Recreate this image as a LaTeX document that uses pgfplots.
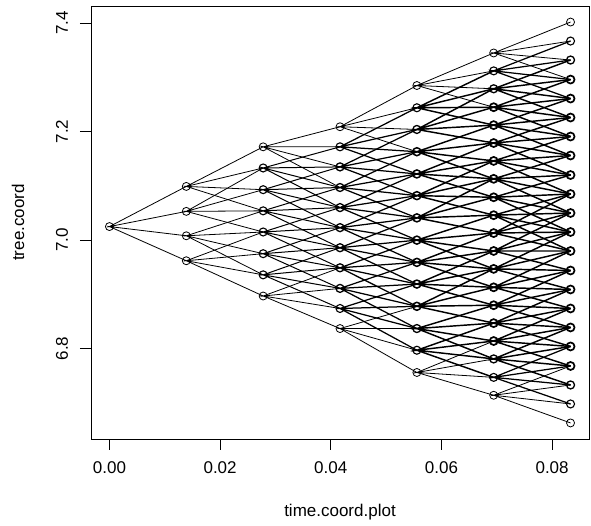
\documentclass[border=0pt]{standalone}
\usepackage{fontspec}
\setmainfont{Liberation Sans}
\usepackage{pgfplots}
\pgfplotsset{compat=1.18}
\begin{document}
\begin{tikzpicture}
\begin{axis}[
  name=ax,
  scale only axis, width=498pt, height=433pt,
  xmin=-0.003333, xmax=0.086667, ymin=6.6334, ymax=7.4316,
  xtick={0,0.02,0.04,0.06,0.08}, xticklabels={0.00,0.02,0.04,0.06,0.08},
  ytick={6.8,7.0,7.2,7.4}, yticklabels={6.8,7.0,7.2,7.4},
  scaled x ticks=false, scaled y ticks=false,
  tick pos=left, tick align=outside, major tick length=11pt,
  tick style={black, line width=0.8pt},
  axis line style={black, line width=0.8pt},
  tick label style={font=\fontsize{17}{20}\selectfont},
  label style={font=\fontsize{17}{20}\selectfont},
  xticklabel style={anchor=center, yshift=-18pt},
  yticklabel style={xshift=-18pt, rotate=90, anchor=center},
  xlabel={time.coord.plot}, ylabel={tree.coord},
  xlabel style={at={(axis description cs:0.5,-0.1686)}, anchor=center},
  ylabel style={at={(axis description cs:-0.1466,0.5)}, anchor=center},
  E/.style={black, line width=0.8pt, no marks},
  M2/.style={black, line width=1.0pt, no marks},
  M3/.style={black, line width=1.25pt, no marks},
  M4/.style={black, line width=1.45pt, no marks},
  C/.style={only marks, mark=o, mark size=4pt, black, mark options={line width=#1}},
]
% step 0 -> 1
\addplot[E] coordinates {(0.01389,7.099)(0,7.025)(0.01389,7.053)(0,7.025)(0.01389,7.008)(0,7.025)(0.01389,6.962)};
% step 1 -> 2
\addplot[E] coordinates {(0.02778,7.172)(0.01389,7.099)(0.02778,7.133)(0.01389,7.099)(0.02778,7.093)(0.01389,7.099)(0.02778,7.054)};
\addplot[E] coordinates {(0.02778,7.133)(0.01389,7.053)(0.02778,7.093)(0.01389,7.053)(0.02778,7.054)(0.01389,7.053)(0.02778,7.015)};
\addplot[E] coordinates {(0.02778,7.054)(0.01389,7.008)(0.02778,7.015)(0.01389,7.008)(0.02778,6.975)(0.01389,7.008)(0.02778,6.936)};
\addplot[E] coordinates {(0.02778,7.015)(0.01389,6.962)(0.02778,6.975)(0.01389,6.962)(0.02778,6.936)(0.01389,6.962)(0.02778,6.897)};
% step 2 -> 3
\addplot[E] coordinates {(0.04167,7.209)(0.02778,7.172)(0.04167,7.172)(0.02778,7.172)(0.04167,7.135)(0.02778,7.172)(0.04167,7.097)};
\addplot[M2] coordinates {(0.04167,7.172)(0.02778,7.133)(0.04167,7.135)(0.02778,7.133)(0.04167,7.097)(0.02778,7.133)(0.04167,7.060)};
\addplot[M2] coordinates {(0.04167,7.135)(0.02778,7.093)(0.04167,7.097)(0.02778,7.093)(0.04167,7.060)(0.02778,7.093)(0.04167,7.023)};
\addplot[M2] coordinates {(0.04167,7.097)(0.02778,7.054)(0.04167,7.060)(0.02778,7.054)(0.04167,7.023)(0.02778,7.054)(0.04167,6.986)};
\addplot[M2] coordinates {(0.04167,7.060)(0.02778,7.015)(0.04167,7.023)(0.02778,7.015)(0.04167,6.986)(0.02778,7.015)(0.04167,6.949)};
\addplot[M2] coordinates {(0.04167,7.023)(0.02778,6.975)(0.04167,6.986)(0.02778,6.975)(0.04167,6.949)(0.02778,6.975)(0.04167,6.911)};
\addplot[M2] coordinates {(0.04167,6.986)(0.02778,6.936)(0.04167,6.949)(0.02778,6.936)(0.04167,6.911)(0.02778,6.936)(0.04167,6.874)};
\addplot[E] coordinates {(0.04167,6.949)(0.02778,6.897)(0.04167,6.911)(0.02778,6.897)(0.04167,6.874)(0.02778,6.897)(0.04167,6.837)};
% step 3 -> 4
\addplot[E] coordinates {(0.05556,7.285)(0.04167,7.209)(0.05556,7.244)(0.04167,7.209)(0.05556,7.204)(0.04167,7.209)(0.05556,7.163)};
\addplot[M3] coordinates {(0.05556,7.244)(0.04167,7.172)(0.05556,7.204)(0.04167,7.172)(0.05556,7.163)(0.04167,7.172)(0.05556,7.122)};
\addplot[M3] coordinates {(0.05556,7.204)(0.04167,7.135)(0.05556,7.163)(0.04167,7.135)(0.05556,7.122)(0.04167,7.135)(0.05556,7.082)};
\addplot[M3] coordinates {(0.05556,7.163)(0.04167,7.097)(0.05556,7.122)(0.04167,7.097)(0.05556,7.082)(0.04167,7.097)(0.05556,7.041)};
\addplot[M3] coordinates {(0.05556,7.122)(0.04167,7.060)(0.05556,7.082)(0.04167,7.060)(0.05556,7.041)(0.04167,7.060)(0.05556,7.000)};
\addplot[M3] coordinates {(0.05556,7.082)(0.04167,7.023)(0.05556,7.041)(0.04167,7.023)(0.05556,7.000)(0.04167,7.023)(0.05556,6.959)};
\addplot[M3] coordinates {(0.05556,7.041)(0.04167,6.986)(0.05556,7.000)(0.04167,6.986)(0.05556,6.959)(0.04167,6.986)(0.05556,6.919)};
\addplot[M3] coordinates {(0.05556,7.000)(0.04167,6.949)(0.05556,6.959)(0.04167,6.949)(0.05556,6.919)(0.04167,6.949)(0.05556,6.878)};
\addplot[M3] coordinates {(0.05556,6.959)(0.04167,6.911)(0.05556,6.919)(0.04167,6.911)(0.05556,6.878)(0.04167,6.911)(0.05556,6.837)};
\addplot[M3] coordinates {(0.05556,6.919)(0.04167,6.874)(0.05556,6.878)(0.04167,6.874)(0.05556,6.837)(0.04167,6.874)(0.05556,6.797)};
\addplot[E] coordinates {(0.05556,6.878)(0.04167,6.837)(0.05556,6.837)(0.04167,6.837)(0.05556,6.797)(0.04167,6.837)(0.05556,6.756)};
% step 4 -> 5
\addplot[E] coordinates {(0.06944,7.345)(0.05556,7.285)(0.06944,7.312)(0.05556,7.285)(0.06944,7.279)(0.05556,7.285)(0.06944,7.245)};
\addplot[M4] coordinates {(0.06944,7.312)(0.05556,7.244)(0.06944,7.279)(0.05556,7.244)(0.06944,7.245)(0.05556,7.244)(0.06944,7.212)};
\addplot[M4] coordinates {(0.06944,7.279)(0.05556,7.204)(0.06944,7.245)(0.05556,7.204)(0.06944,7.212)(0.05556,7.204)(0.06944,7.179)};
\addplot[M4] coordinates {(0.06944,7.212)(0.05556,7.163)(0.06944,7.179)(0.05556,7.163)(0.06944,7.146)(0.05556,7.163)(0.06944,7.113)};
\addplot[M4] coordinates {(0.06944,7.179)(0.05556,7.122)(0.06944,7.146)(0.05556,7.122)(0.06944,7.113)(0.05556,7.122)(0.06944,7.079)};
\addplot[M4] coordinates {(0.06944,7.146)(0.05556,7.082)(0.06944,7.113)(0.05556,7.082)(0.06944,7.079)(0.05556,7.082)(0.06944,7.046)};
\addplot[M4] coordinates {(0.06944,7.113)(0.05556,7.041)(0.06944,7.079)(0.05556,7.041)(0.06944,7.046)(0.05556,7.041)(0.06944,7.013)};
\addplot[M4] coordinates {(0.06944,7.046)(0.05556,7.000)(0.06944,7.013)(0.05556,7.000)(0.06944,6.980)(0.05556,7.000)(0.06944,6.947)};
\addplot[M4] coordinates {(0.06944,7.013)(0.05556,6.959)(0.06944,6.980)(0.05556,6.959)(0.06944,6.947)(0.05556,6.959)(0.06944,6.913)};
\addplot[M4] coordinates {(0.06944,6.980)(0.05556,6.919)(0.06944,6.947)(0.05556,6.919)(0.06944,6.913)(0.05556,6.919)(0.06944,6.880)};
\addplot[M4] coordinates {(0.06944,6.947)(0.05556,6.878)(0.06944,6.913)(0.05556,6.878)(0.06944,6.880)(0.05556,6.878)(0.06944,6.847)};
\addplot[M4] coordinates {(0.06944,6.880)(0.05556,6.837)(0.06944,6.847)(0.05556,6.837)(0.06944,6.814)(0.05556,6.837)(0.06944,6.781)};
\addplot[M4] coordinates {(0.06944,6.847)(0.05556,6.797)(0.06944,6.814)(0.05556,6.797)(0.06944,6.781)(0.05556,6.797)(0.06944,6.747)};
\addplot[E] coordinates {(0.06944,6.814)(0.05556,6.756)(0.06944,6.781)(0.05556,6.756)(0.06944,6.747)(0.05556,6.756)(0.06944,6.714)};
% step 5 -> 6
\addplot[E] coordinates {(0.08333,7.402)(0.06944,7.345)(0.08333,7.367)(0.06944,7.345)(0.08333,7.332)(0.06944,7.345)(0.08333,7.296)};
\addplot[M3] coordinates {(0.08333,7.367)(0.06944,7.312)(0.08333,7.332)(0.06944,7.312)(0.08333,7.296)(0.06944,7.312)(0.08333,7.261)};
\addplot[M4] coordinates {(0.08333,7.332)(0.06944,7.279)(0.08333,7.296)(0.06944,7.279)(0.08333,7.261)(0.06944,7.279)(0.08333,7.226)};
\addplot[M4] coordinates {(0.08333,7.296)(0.06944,7.245)(0.08333,7.261)(0.06944,7.245)(0.08333,7.226)(0.06944,7.245)(0.08333,7.191)};
\addplot[M4] coordinates {(0.08333,7.261)(0.06944,7.212)(0.08333,7.226)(0.06944,7.212)(0.08333,7.191)(0.06944,7.212)(0.08333,7.156)};
\addplot[M4] coordinates {(0.08333,7.226)(0.06944,7.179)(0.08333,7.191)(0.06944,7.179)(0.08333,7.156)(0.06944,7.179)(0.08333,7.120)};
\addplot[M4] coordinates {(0.08333,7.191)(0.06944,7.146)(0.08333,7.156)(0.06944,7.146)(0.08333,7.120)(0.06944,7.146)(0.08333,7.085)};
\addplot[M4] coordinates {(0.08333,7.156)(0.06944,7.113)(0.08333,7.120)(0.06944,7.113)(0.08333,7.085)(0.06944,7.113)(0.08333,7.050)};
\addplot[M4] coordinates {(0.08333,7.120)(0.06944,7.079)(0.08333,7.085)(0.06944,7.079)(0.08333,7.050)(0.06944,7.079)(0.08333,7.015)};
\addplot[M4] coordinates {(0.08333,7.085)(0.06944,7.046)(0.08333,7.050)(0.06944,7.046)(0.08333,7.015)(0.06944,7.046)(0.08333,6.980)};
\addplot[M4] coordinates {(0.08333,7.085)(0.06944,7.013)(0.08333,7.050)(0.06944,7.013)(0.08333,7.015)(0.06944,7.013)(0.08333,6.980)};
\addplot[M4] coordinates {(0.08333,7.050)(0.06944,6.980)(0.08333,7.015)(0.06944,6.980)(0.08333,6.980)(0.06944,6.980)(0.08333,6.944)};
\addplot[M4] coordinates {(0.08333,7.015)(0.06944,6.947)(0.08333,6.980)(0.06944,6.947)(0.08333,6.944)(0.06944,6.947)(0.08333,6.909)};
\addplot[M4] coordinates {(0.08333,6.980)(0.06944,6.913)(0.08333,6.944)(0.06944,6.913)(0.08333,6.909)(0.06944,6.913)(0.08333,6.874)};
\addplot[M4] coordinates {(0.08333,6.944)(0.06944,6.880)(0.08333,6.909)(0.06944,6.880)(0.08333,6.874)(0.06944,6.880)(0.08333,6.839)};
\addplot[M4] coordinates {(0.08333,6.909)(0.06944,6.847)(0.08333,6.874)(0.06944,6.847)(0.08333,6.839)(0.06944,6.847)(0.08333,6.804)};
\addplot[M4] coordinates {(0.08333,6.874)(0.06944,6.814)(0.08333,6.839)(0.06944,6.814)(0.08333,6.804)(0.06944,6.814)(0.08333,6.768)};
\addplot[M4] coordinates {(0.08333,6.839)(0.06944,6.781)(0.08333,6.804)(0.06944,6.781)(0.08333,6.768)(0.06944,6.781)(0.08333,6.733)};
\addplot[M3] coordinates {(0.08333,6.804)(0.06944,6.747)(0.08333,6.768)(0.06944,6.747)(0.08333,6.733)(0.06944,6.747)(0.08333,6.698)};
\addplot[E] coordinates {(0.08333,6.768)(0.06944,6.714)(0.08333,6.733)(0.06944,6.714)(0.08333,6.698)(0.06944,6.714)(0.08333,6.663)};
% nodes: outer (single) circles
\addplot[C=0.8pt] table {
x y
0 7.025
0.01389 7.099
0.01389 7.053
0.01389 7.008
0.01389 6.962
0.02778 7.172
0.02778 6.897
0.04167 7.209
0.04167 6.837
0.05556 7.285
0.05556 6.756
0.06944 7.345
0.06944 6.714
0.08333 7.402
0.08333 6.663
};
% nodes at time 2
\addplot[C=1.1pt] table {
x y
0.02778 7.133
0.02778 7.093
0.02778 7.054
0.02778 7.015
0.02778 6.975
0.02778 6.936
0.04167 7.172
0.04167 6.874
0.05556 7.244
0.05556 6.797
0.06944 7.312
0.06944 6.747
0.08333 7.367
0.08333 6.698
};
% nodes at time 3
\addplot[C=1.3pt] table {
x y
0.04167 7.135
0.04167 7.097
0.04167 7.060
0.04167 7.023
0.04167 6.986
0.04167 6.949
0.04167 6.911
0.05556 7.204
0.05556 6.837
0.06944 7.279
0.06944 6.781
0.08333 7.332
0.08333 6.733
};
% inner nodes at time 4
\addplot[C=1.5pt] table {
x y
0.05556 7.163
0.05556 7.122
0.05556 7.082
0.05556 7.041
0.05556 7.000
0.05556 6.959
0.05556 6.919
0.05556 6.878
};
% inner nodes at time 5 and 6
\addplot[C=1.7pt] table {
x y
0.06944 7.245
0.06944 7.212
0.06944 7.179
0.06944 7.146
0.06944 7.113
0.06944 7.079
0.06944 7.046
0.06944 7.013
0.06944 6.980
0.06944 6.947
0.06944 6.913
0.06944 6.880
0.06944 6.847
0.06944 6.814
0.08333 7.296
0.08333 7.261
0.08333 7.226
0.08333 7.191
0.08333 7.156
0.08333 7.120
0.08333 7.085
0.08333 7.050
0.08333 7.015
0.08333 6.980
0.08333 6.944
0.08333 6.909
0.08333 6.874
0.08333 6.839
0.08333 6.804
0.08333 6.768
};
\end{axis}
\pgfresetboundingbox
\path[use as bounding box] ([xshift=-91pt,yshift=-87pt]ax.south west) rectangle ([xshift=500pt,yshift=439pt]ax.south west);
\end{tikzpicture}
\end{document}
